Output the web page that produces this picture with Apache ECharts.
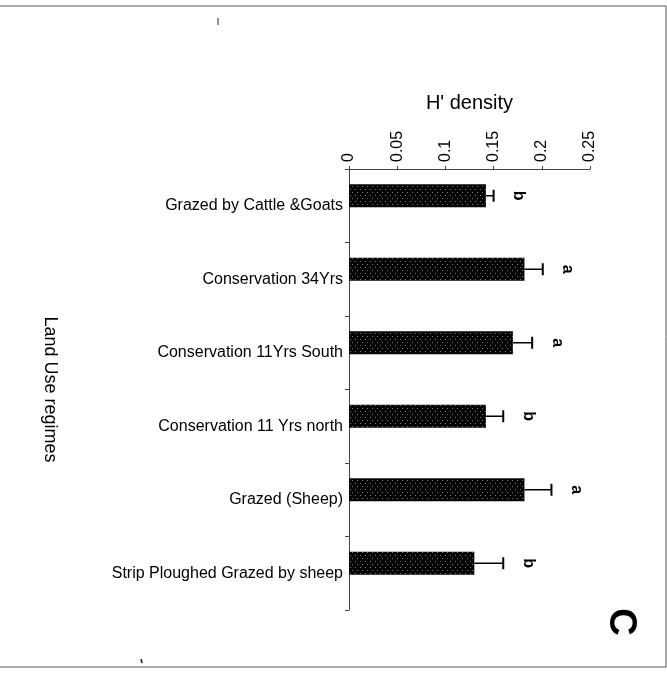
<!DOCTYPE html>
<html><head><meta charset="utf-8">
<script src="https://cdn.jsdelivr.net/npm/echarts@6/dist/echarts.min.js"></script>
<style>html,body{margin:0;padding:0;background:#fff}#c{width:667px;height:674px}</style>
</head><body><div id="c"></div>
<script>
const categories = ['Grazed by Cattle &Goats', 'Conservation 34Yrs', 'Conservation 11Yrs South', 'Conservation 11 Yrs north', 'Grazed (Sheep)', 'Strip Ploughed Grazed by sheep'];
const means = [0.142, 0.182, 0.170, 0.142, 0.182, 0.130];
const errors = [0.008, 0.019, 0.020, 0.018, 0.028, 0.030];
const letters = ['b', 'a', 'a', 'b', 'a', 'b'];
const xTickLabels = ['0', '0.05', '0.1', '0.15', '0.2', '0.25'];

const FONT = '"Liberation Sans", Arial, sans-serif';
const BAR_SHIFT = -10;
const chart = echarts.init(document.getElementById('c'), null, {renderer: 'canvas'});
chart.setOption({
  backgroundColor: '#fff',
  animation: false,
  grid: {left: 349, top: 169, right: 77, bottom: 64, containLabel: false},
  xAxis: {
    type: 'value', position: 'top', min: 0, max: 0.25, interval: 0.05,
    name: "H' density", nameLocation: 'middle', nameGap: 56,
    nameTextStyle: {fontFamily: FONT, fontSize: 20, color: '#000'},
    axisLine: {show: true, lineStyle: {color: '#444', width: 1}},
    axisTick: {show: true, length: 3, lineStyle: {color: '#444'}},
    splitLine: {show: false},
    axisLabel: {
      rotate: -90, margin: 7, fontFamily: FONT, fontSize: 16, color: '#000',
      formatter: (v, i) => xTickLabels[i]
    }
  },
  yAxis: {
    type: 'category', data: categories, inverse: true,
    name: 'Land Use regimes', nameLocation: 'middle', nameGap: 290, nameRotate: -90,
    nameMoveOverlap: false,
    nameTextStyle: {fontFamily: FONT, fontSize: 18, color: '#000'},
    axisLine: {show: true, lineStyle: {color: '#444', width: 1}},
    axisTick: {show: true, length: 4, alignWithLabel: false, lineStyle: {color: '#444'}},
    axisLabel: {margin: 6, fontFamily: FONT, fontSize: 16, color: '#000'}
  },
  series: [
    {
      type: 'bar', data: means, barWidth: 23, barGap: '-13%', z: 2,
      itemStyle: {
        color: '#050505',
        decal: {symbol: 'rect', symbolSize: 1, dashArrayX: [[1, 4], [0, 2, 1, 2]], dashArrayY: [1, 2], color: 'rgba(150,150,150,0.8)'}
      }
    },
    {type: 'bar', data: [], barWidth: 23, barGap: '-13%', silent: true},
    {
      type: 'custom', z: 3,
      data: categories.map((c, i) => [i, means[i], means[i] + errors[i]]),
      encode: {y: 0, x: [1, 2]},
      renderItem: function (params, api) {
        const i = api.value(0);
        const p0 = api.coord([api.value(1), i]);
        const p1 = api.coord([api.value(2), i]);
        const y = p0[1] + BAR_SHIFT;
        const cap = 6;
        return {type: 'group', children: [
          {type: 'line', shape: {x1: p0[0], y1: y, x2: p1[0], y2: y}, style: {stroke: '#000', lineWidth: 1.5}},
          {type: 'line', shape: {x1: p1[0], y1: y - cap, x2: p1[0], y2: y + cap}, style: {stroke: '#000', lineWidth: 2}},
          {type: 'text', x: p1[0] + 25, y: y, rotation: -Math.PI / 2,
            style: {text: letters[params.dataIndex], font: 'bold 16px ' + FONT, fill: '#000', align: 'center', verticalAlign: 'middle'}}
        ]};
      }
    }
  ],
  graphic: [
    {type: 'polyline', shape: {points: [[0, 6], [666, 6], [666, 667], [0, 667]]}, style: {stroke: '#555', lineWidth: 1, fill: null}},
    {type: 'text', x: 620, y: 622, rotation: -Math.PI / 2,
      style: {text: 'C', font: 'bold 38px ' + FONT, fill: '#000', align: 'center', verticalAlign: 'middle'}},
    {type: 'line', shape: {x1: 218, y1: 18, x2: 218, y2: 25}, style: {stroke: '#222', lineWidth: 1}},
    {type: 'line', shape: {x1: 141, y1: 659, x2: 142, y2: 663}, style: {stroke: '#222', lineWidth: 1.5}}
  ]
});
</script></body></html>
